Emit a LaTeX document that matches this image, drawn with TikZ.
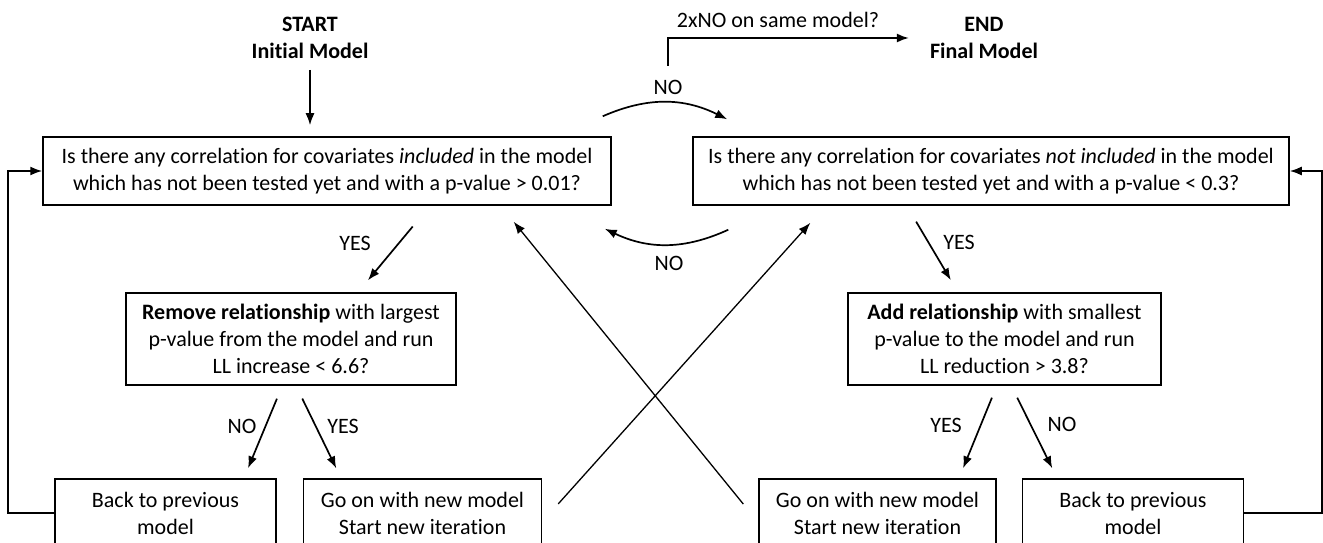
\documentclass[tikz,border=0pt]{standalone}
\usepackage{fontspec}
\setmainfont{Carlito}[Ligatures=NoCommon, Contextuals=NoAlternate]
\usetikzlibrary{positioning, arrows.meta}
\newcommand{\flowfont}{\fontsize{22}{27}\selectfont}

\begin{document}
\begin{tikzpicture}[x=1pt, y=1pt, font=\flowfont, >={Latex[length=12pt,width=9pt]},
		flowbox/.style={draw, line width=1.5pt, align=center, inner sep=0pt},
		flowlabel/.style={inner sep=0pt, align=center},
		flowarrow/.style={->, line width=1.7pt}]
			\useasboundingbox (0,0) rectangle (1323,542);
			% Start and end
			\node[flowlabel] (start) at (310,504) {\textbf{START}\\\textbf{Initial Model}};
			\node[flowlabel] (finish) at (984,504) {\textbf{END}\\\textbf{Final Model}};
			\node[flowlabel] (twice) at (778,522) {2xNO on same model?};
			% Question boxes
			\node[flowbox, minimum width=568pt, minimum height=68pt] (incl) at (327,371) {Is there any correlation for covariates \textit{included} in the model\\which has not been tested yet and with a p-value > 0.01?};
			\node[flowbox, minimum width=596pt, minimum height=68pt] (notincl) at (991,371) {Is there any correlation for covariates \textit{not included} in the model\\which has not been tested yet and with a p-value < 0.3?};
			% Test boxes
			\node[flowbox, minimum width=330pt, minimum height=92pt] (remove) at (291,203) {\textbf{Remove relationship} with largest\\p-value from the model and run\\LL increase < 6.6?};
			\node[flowbox, minimum width=313pt, minimum height=92pt] (add) at (1004.5,203) {\textbf{Add relationship} with smallest\\p-value to the model and run\\LL reduction > 3.8?};
			% Outcome boxes
			\node[flowbox, minimum width=221pt, minimum height=68pt] (backL) at (165.5,29) {Back to previous\\model};
			\node[flowbox, minimum width=238pt, minimum height=68pt] (goL) [right=26pt of backL] {Go on with new model\\Start new iteration};
			\node[flowbox, minimum width=237pt, minimum height=68pt] (goR) at (877.5,29) {Go on with new model\\Start new iteration};
			\node[flowbox, minimum width=221pt, minimum height=68pt] (backR) [right=25pt of goR] {Back to previous\\model};
			% Labels
			\node[flowlabel] (notop) at (668,455) {NO};
			\node[flowlabel] (nobot) at (669,279) {NO};
			\node[flowlabel] (yesL) at (355,299) {YES};
			\node[flowlabel] (yesR) at (959,300) {YES};
			\node[flowlabel] (noLL) at (242,116) {NO};
			\node[flowlabel] (yesLR) at (343,116) {YES};
			\node[flowlabel] (yesRL) at (946,117) {YES};
			\node[flowlabel] (noRR) at (1062,118) {NO};
			% Arrows at the top
			\draw[flowarrow, shorten <=11pt, shorten >=11pt] (start.south) -- (start.south |- incl.north);
			\draw[flowarrow, shorten <=14pt] (notop.north) |- ([xshift=-21pt]finish.west);
			\draw[flowarrow] ([shift={(-9pt,20pt)}]incl.north east) to[bend left=25] ([shift={(35pt,17pt)}]notincl.north west);
			\draw[flowarrow] ([shift={(36pt,-24pt)}]notincl.south west) to[bend left=25] ([shift={(-7pt,-23pt)}]incl.south east);
			% Arrows to the test boxes
			\draw[flowarrow, shorten <=27pt, shorten >=15.5pt] ([xshift=103pt]incl.south) -- ([xshift=67pt]remove.north);
			\draw[flowarrow, shorten <=18.5pt, shorten >=14pt] ([xshift=-84.3pt]notincl.south) -- ([xshift=-46.5pt]add.north);
			% Arrows to the outcome boxes
			\draw[flowarrow, shorten <=14pt, shorten >=10.8pt] ([xshift=-8.7pt]remove.south) -- ([xshift=78.4pt]backL.north);
			\draw[flowarrow, shorten <=14.3pt, shorten >=11pt] ([xshift=5pt]remove.south) -- ([xshift=-81.4pt]goL.north);
			\draw[flowarrow, shorten <=12.9pt, shorten >=10.8pt] ([xshift=-7.7pt]add.south) -- ([xshift=81.5pt]goR.north);
			\draw[flowarrow, shorten <=13.3pt, shorten >=11.1pt] ([xshift=6.8pt]add.south) -- ([xshift=-75.8pt]backR.north);
			% Crossing arrows
			\draw[flowarrow, line width=1.3pt, shorten <=24pt, shorten >=23pt] ([yshift=-8.7pt]goL.east) -- ([xshift=133.4pt]notincl.south west);
			\draw[flowarrow, line width=1.3pt, shorten <=23.7pt, shorten >=20.6pt] ([yshift=-9.4pt]goR.west) -- ([xshift=-111.1pt]incl.south east);
			% Feedback arrows
			\draw[flowarrow] (backL.west) -- ++(-46pt,0) |- (incl.west);
			\draw[flowarrow] (backR.east) -- ++(78pt,0) |- (notincl.east);
		\end{tikzpicture}
\end{document}
